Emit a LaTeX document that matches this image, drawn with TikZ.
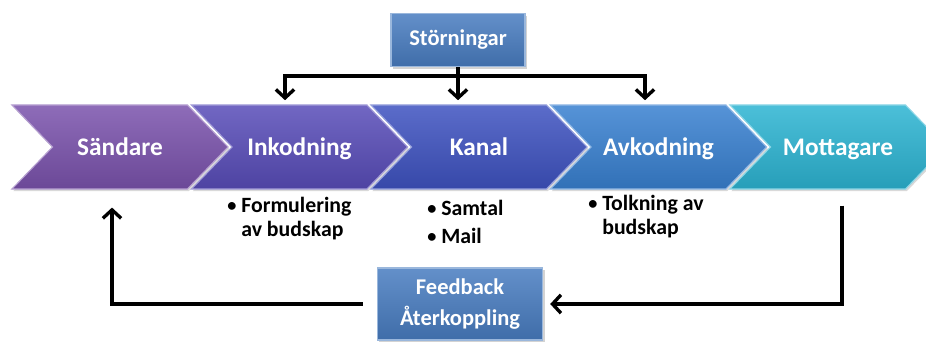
\documentclass[tikz,border=0pt]{standalone}
\usepackage{fontspec}
\setmainfont{Carlito}
\usetikzlibrary{positioning, arrows.meta, shapes.symbols, shadows, calc}

\definecolor{sandCol}{RGB}{122,82,172}
\definecolor{inkoCol}{RGB}{88,76,184}
\definecolor{kanaCol}{RGB}{62,82,192}
\definecolor{avkoCol}{RGB}{56,128,208}
\definecolor{mottCol}{RGB}{44,180,210}
\definecolor{boxCol}{RGB}{72,124,192}

\newcommand{\listdot}{\raisebox{0.8pt}{\fontsize{13}{13}\selectfont\textbullet}\ }

\begin{document}
\begin{tikzpicture}[
    x=0.025cm, y=-0.025cm,
    >={Straight Barb[length=6pt, width=13pt]},
    chev/.style={shape=signal, signal from=west, signal to=east, signal pointer angle=92,
        minimum width=5.4cm, minimum height=2.1cm, inner sep=0pt,
        font=\fontsize{18}{20}\selectfont\bfseries, text=white,
        text height=11.5pt, text depth=0pt,
        draw=#1!55!white, line width=0.8pt, top color=#1!85!white, bottom color=#1!88!black,
        drop shadow={opacity=0.3, shadow xshift=1pt, shadow yshift=-1.5pt}},
    infobox/.style={draw=boxCol!55!white, line width=0.8pt, top color=boxCol!85!white,
        bottom color=boxCol!88!black, text=white, align=center,
        font=\fontsize{16}{22}\selectfont\bfseries,
        drop shadow={opacity=0.35, shadow xshift=1.5pt, shadow yshift=-1.5pt}},
    list/.style={font=\fontsize{15.5}{17}\selectfont\bfseries, align=left, inner sep=0pt},
    flow/.style={->, line width=2.4pt},
]
\useasboundingbox (0,0) rectangle (926,342);
\clip (0,0) rectangle (926,342);

% chevrons
\node[chev=sandCol] (send) at (120,147) {Sändare};
\node[chev=inkoCol] (inko) at (299.5,147) {Inkodning};
\node[chev=kanaCol] (kana) at (479,147) {Kanal};
\node[chev=avkoCol] (avko) at (658.5,147) {Avkodning};
\node[chev=mottCol] (mott) at (838,147) {Mottagare};

% disturbance and feedback boxes
\node[infobox, minimum width=3.35cm, minimum height=1.33cm] (stor) at (458,40) {Störningar};
\node[infobox, minimum width=4.13cm, minimum height=1.8cm] (fb) at (460,304) {Feedback\\Återkoppling};

% bullet lists
\node[list, anchor=north west] (inkoList) at (227,197) {\listdot Formulering\\\phantom{\listdot}av budskap};
\node[list, anchor=north west] (kanaList) at (427,200) {\listdot Samtal\\[3pt]\listdot Mail};
\node[list, anchor=north west] (avkoList) at (588,195) {\listdot Tolkning av\\\phantom{\listdot}budskap};

% connectors
\coordinate (busL) at (285,76);
\coordinate (busR) at (645,76);
\draw[flow, shorten >=3pt] (stor.south) -- (stor.south |- kana.north);
\draw[flow, shorten >=3pt] (busR) -- (busL) -- (busL |- inko.north);
\draw[flow, shorten >=3pt] (busL) -- (busR) -- (busR |- avko.north);
\draw[flow, shorten >=5pt] ($(mott.south)+(4,16)$) |- (fb.east);
\draw[flow] ([xshift=-10pt]fb.west) -| ($(send.south)+(-8,18)$);
\end{tikzpicture}
\end{document}
